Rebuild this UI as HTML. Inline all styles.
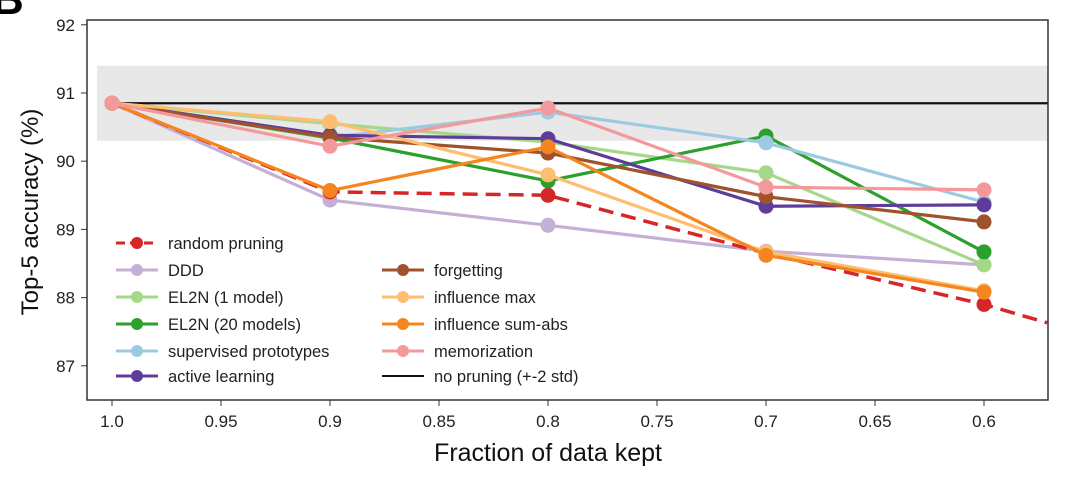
<!DOCTYPE html>
<html><head><meta charset="utf-8"><style>
html,body{margin:0;background:#fff;width:1080px;height:479px;overflow:hidden;font-family:"Liberation Sans",sans-serif}
svg{display:block}
</style></head><body>
<svg id="chart" width="1080" height="479" viewBox="0 0 1080 479" xmlns="http://www.w3.org/2000/svg">
<text x="-8" y="14" font-size="44" font-weight="bold">B</text>
<g id="plot"></g>
</svg>
<script>
const xVals=[1.0,0.9,0.8,0.7,0.6];
const seriesNames=["random pruning","DDD","EL2N (1 model)","EL2N (20 models)","supervised prototypes","active learning","forgetting","influence max","influence sum-abs","memorization"];
const seriesColors=["#d62728","#c5b0d5","#a6d889","#2ca02c","#9ecae1","#5e3c99","#a0522d","#fdbf6f","#f5851f","#f4999b"];
const randomVals=[90.85,89.55,89.5,88.65,87.9];
const dddVals=[90.85,89.43,89.06,88.68,88.48];
const el2n1Vals=[90.85,90.55,90.28,89.83,88.48];
const el2n20Vals=[90.85,90.34,89.71,90.37,88.67];
const protoVals=[90.85,90.35,90.72,90.27,89.4];
const activeVals=[90.85,90.38,90.33,89.34,89.36];
const forgetVals=[90.85,90.35,90.12,89.48,89.11];
const inflMaxVals=[90.85,90.58,89.8,88.67,88.1];
const inflSumVals=[90.85,89.57,90.21,88.62,88.08];
const memoVals=[90.85,90.22,90.78,89.62,89.58];
const randomExtX=0.571, randomExtV=87.63;
const baseline=90.85, bandLo=90.3, bandHi=91.4;
const xTicks=[1.0,0.95,0.9,0.85,0.8,0.75,0.7,0.65,0.6];
const xTickLabels=["1.0","0.95","0.9","0.85","0.8","0.75","0.7","0.65","0.6"];
const yTicks=[87,88,89,90,91,92];
const allVals=[randomVals,dddVals,el2n1Vals,el2n20Vals,protoVals,activeVals,forgetVals,inflMaxVals,inflSumVals,memoVals];
const drawOrder=[1,0,2,3,4,5,6,7,8,9];

const L=87,R=1048,T=20,B=400;
const X=v=>112+(1.0-v)*2180;
const Y=v=>93-(v-91)*68.2;
const NS="http://www.w3.org/2000/svg";
const g=document.getElementById('plot');
function mk(tag,attrs,parent){const e=document.createElementNS(NS,tag);for(const k in attrs)e.setAttribute(k,attrs[k]);(parent||g).appendChild(e);return e;}
const clip=mk('clipPath',{id:'clipR'});mk('rect',{x:L,y:T,width:R-L,height:B-T},clip);

let e=mk('rect',{x:L+10,y:Y(bandHi),width:R-L-10,height:Y(bandLo)-Y(bandHi),fill:'#e8e8e8'});

e=mk('line',{x1:X(1.0),x2:R,y1:Y(baseline),y2:Y(baseline),stroke:'#111','stroke-width':2.2});


drawOrder.forEach(s=>{
  const vals=allVals[s];const sg=mk('g',{'clip-path':'url(#clipR)'});
  
  
  let pts=vals.map((v,i)=>X(xVals[i])+','+Y(v));
  if(s===0)pts.push(X(randomExtX)+','+Y(randomExtV));
  const pl=mk('polyline',{points:pts.join(' '),fill:'none',stroke:seriesColors[s],'stroke-width':s===0?3.5:3.2,'stroke-dasharray':s===0?'15,8':'none'},sg);
  
  vals.forEach((v,i)=>{const c=mk('circle',{cx:X(xVals[i]),cy:Y(v),r:7.5,fill:seriesColors[s]},sg);
    });
});
e=mk('rect',{x:L,y:T,width:R-L,height:B-T,fill:'none',stroke:'#333','stroke-width':1.5});

xTicks.forEach((t,i)=>{mk('line',{x1:X(t),x2:X(t),y1:B,y2:B+6,stroke:'#333'});
  const tx=mk('text',{x:X(t),y:B+27,'font-size':17,'text-anchor':'middle',fill:'#222'});tx.textContent=xTickLabels[i];
  });
yTicks.forEach(t=>{mk('line',{x1:L-6,x2:L,y1:Y(t),y2:Y(t),stroke:'#333'});
  const tx=mk('text',{x:L-12,y:Y(t)+6,'font-size':17,'text-anchor':'end',fill:'#222'});tx.textContent=t;
  });
e=mk('text',{x:548,y:461,'font-size':25,'text-anchor':'middle',fill:'#111'});e.textContent='Fraction of data kept';

e=mk('text',{x:0,y:0,'font-size':24,'text-anchor':'middle',fill:'#111',transform:'translate(38,212) rotate(-90)'});e.textContent='Top-5 accuracy (%)';


const legItems=[[0,120,243],[1,120,270],[2,120,297],[3,120,324],[4,120,351],[5,120,376],
  [6,386,270],[7,386,297],[8,386,324],[9,386,351],[-1,386,376]];
legItems.forEach(([s,x,y])=>{const lg=mk('g',{});
  
  const col=s<0?'#111':seriesColors[s];
  mk('line',{x1:x-4,x2:x+38,y1:y,y2:y,stroke:col,'stroke-width':s<0?2:3,'stroke-dasharray':s===0?'9,5':'none'},lg);
  if(s>=0)mk('circle',{cx:x+17,cy:y,r:6,fill:col},lg);
  const tx=mk('text',{x:x+48,y:y+6,'font-size':16.5,fill:'#222'},lg);
  tx.textContent=s<0?'no pruning (+-2 std)':seriesNames[s];});
</script>
</body></html>
